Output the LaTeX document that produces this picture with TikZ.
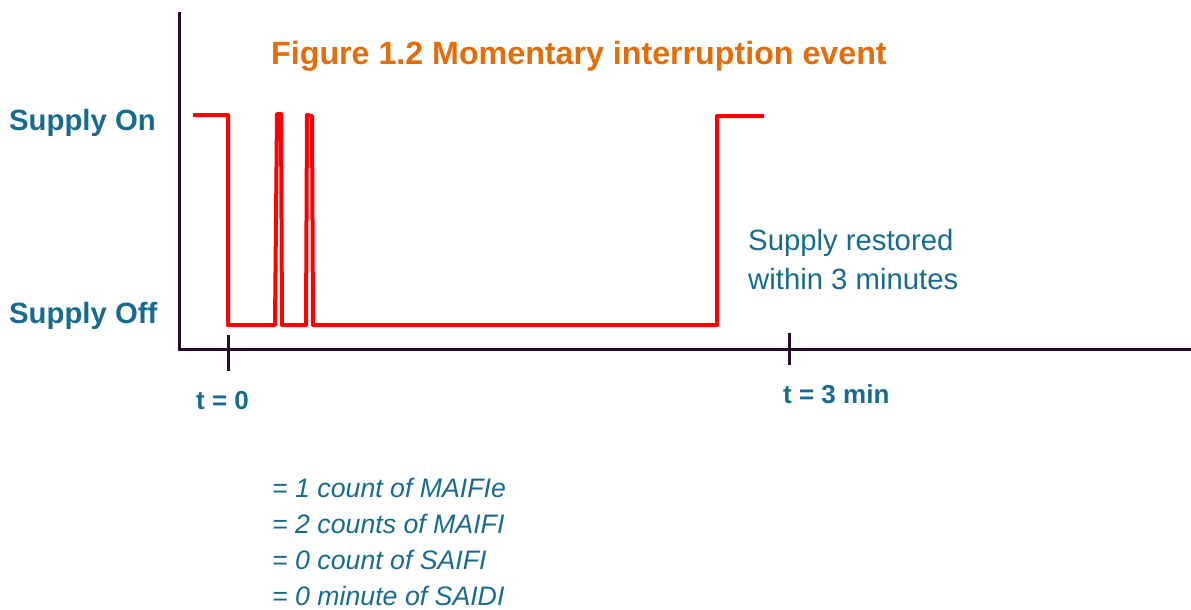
\documentclass[tikz,border=0pt]{standalone}
\usepackage{fontspec}
\setmainfont{Liberation Sans}
\definecolor{tealtxt}{RGB}{23,107,143}
\definecolor{orangetxt}{RGB}{228,108,10}
\definecolor{axiscol}{RGB}{40,10,45}
\definecolor{wavered}{RGB}{255,0,0}
\tikzset{
  lbl/.style={inner sep=0pt, text=tealtxt, font=\bfseries\fontsize{29.3}{35}\selectfont, anchor=base west},
  tlbl/.style={inner sep=0pt, text=tealtxt, font=\bfseries\fontsize{26}{31}\selectfont, anchor=base west},
  note/.style={inner sep=0pt, text=tealtxt, font=\fontsize{29.3}{35}\selectfont, anchor=base west},
  res/.style={inner sep=0pt, text=tealtxt, font=\itshape\fontsize{26.7}{31}\selectfont, anchor=base west},
  axisline/.style={draw=axiscol, line width=3pt},
  wave/.style={draw=wavered, line width=4pt, line join=round}
}
\begin{document}
\begin{tikzpicture}[x=1pt, y=-1pt]
\useasboundingbox (0,0) rectangle (1191,610);
% axes
\coordinate (ytop) at (179,12);
\coordinate (orig) at (179,349);
\coordinate (xend) at (1191,349);
\draw[axisline] (ytop) -- (orig) -- (xend);
\coordinate (t0a) at (228,335);
\coordinate (t0b) at (228,371);
\coordinate (t3a) at (789,333);
\coordinate (t3b) at (789,365);
\draw[axisline] (t0a) -- (t0b);
\draw[axisline] (t3a) -- (t3b);
% waveform
\draw[wave] (193,115) -- (228,115) -- (228,325) -- (275,325) -- (277,114) -- (281,114)
  -- (282,325) -- (306,325) -- (307,115) -- (312,116) -- (313,325) -- (717,325)
  -- (717,116) -- (764,116);
% labels
\node[inner sep=0pt, anchor=base west, text=orangetxt, font=\bfseries\fontsize{32.2}{38}\selectfont] (title) at (271,65) {Figure 1.2 Momentary interruption event};
\node[lbl] (on) at (9,130) {Supply On};
\node[lbl] (off) at (9,323) {Supply Off};
\node[tlbl] (tzero) at (196,409) {t = 0};
\node[tlbl] (tthree) at (783,403) {t = 3 min};
\node[note] (rest1) at (748,250) {Supply restored};
\node[note] (rest2) at (748,289) {within 3 minutes};
\node[res] (r1) at (272,497) {= 1 count of MAIFIe};
\node[res] (r2) at (272,533) {= 2 counts of MAIFI};
\node[res] (r3) at (272,569) {= 0 count of SAIFI};
\node[res] (r4) at (272,605) {= 0 minute of SAIDI};
\end{tikzpicture}
\end{document}
